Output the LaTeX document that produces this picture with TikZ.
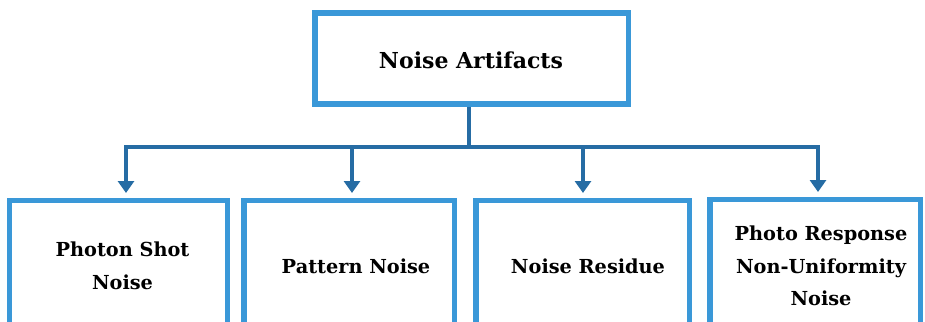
\documentclass[tikz,border=0pt]{standalone}
\usepackage{fontspec}
\setmainfont{DejaVu Serif}
\usetikzlibrary{arrows.meta,calc}
\definecolor{boxblue}{RGB}{58,152,216}
\definecolor{linkblue}{RGB}{38,108,164}
\begin{document}
\begin{tikzpicture}[x=1pt,y=-1pt,
  box/.style={draw=boxblue,line width=5.5pt,fill=white,inner sep=0pt},
  heading/.style={font=\bfseries\fontsize{22}{26}\selectfont},
  leaf/.style={font=\bfseries\fontsize{19.3}{32.5}\selectfont,align=center},
  conn/.style={draw=linkblue,line width=4pt},
  arr/.style={conn,-{Triangle[width=16pt,length=12pt]},shorten >=4.5pt}]
\useasboundingbox (0,0) rectangle (925,321);
\clip (0,0) rectangle (925,321);
% root box
\node[box,minimum width=313.5pt,minimum height=91pt] (root) at (471.75,58.5) {};
\node[heading] (rootlabel) at (471,60) {Noise Artifacts};
% leaf boxes (their lower edge runs past the page)
\node[box,minimum width=218pt,minimum height=150pt,anchor=north] (b1) at (118.5,197.5) {};
\node[box,minimum width=210.5pt,minimum height=150pt,anchor=north] (b2) at (349,197.5) {};
\node[box,minimum width=213.5pt,minimum height=150pt,anchor=north] (b3) at (582.5,197.5) {};
\node[box,minimum width=210.5pt,minimum height=150pt,anchor=north] (b4) at (815,196.5) {};
\node[leaf] (t1) at (122.5,266) {Photon Shot\\Noise};
\node[leaf] (t2) at (356,266) {Pattern Noise};
\node[leaf] (t3) at (588,266) {Noise Residue};
\node[leaf] (t4) at (821,266) {Photo Response\\Non-Uniformity\\Noise};
% connectors
\coordinate (j) at (469,147);
\draw[conn] ([xshift=-2.75pt]root.south) -- (j);
\draw[arr] (j) -| ([xshift=7.5pt]b1.north);
\draw[arr] (j) -| ([xshift=3pt]b2.north);
\draw[arr] (j) -| ([xshift=0.5pt]b3.north);
\draw[arr] (j) -| ([xshift=3pt]b4.north);
\end{tikzpicture}
\end{document}
